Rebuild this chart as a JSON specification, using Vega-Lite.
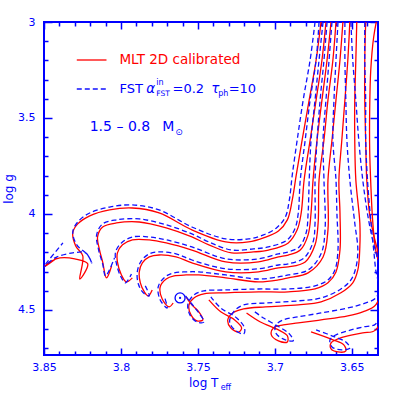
{
"$schema": "https://vega.github.io/schema/vega-lite/v6.json",
"width": 334, "height": 333,
"autosize": {"type": "none"},
"padding": {"left": 44, "top": 22, "right": 21, "bottom": 44},
"background": "white",
"config": {"view": {"stroke": "#0000ff", "strokeWidth": 2}},
"data": {"values": [{}]},
"datasets": {
"mlt": [
{"k":1,"i":0,"T":3.6700,"g":3.000},{"k":1,"i":1,"T":3.6732,"g":3.198},{"k":1,"i":2,"T":3.6777,"g":3.406},{"k":1,"i":3,"T":3.6823,"g":3.615},{"k":1,"i":4,"T":3.6861,"g":3.797},{"k":1,"i":5,"T":3.6887,"g":3.927},{"k":1,"i":6,"T":3.6919,"g":4.031},{"k":1,"i":7,"T":3.6977,"g":4.089},{"k":1,"i":8,"T":3.7074,"g":4.125},{"k":1,"i":9,"T":3.7171,"g":4.146},{"k":1,"i":10,"T":3.7319,"g":4.146},{"k":1,"i":11,"T":3.7539,"g":4.083},{"k":1,"i":12,"T":3.7752,"g":3.995},{"k":1,"i":13,"T":3.7926,"g":3.969},{"k":1,"i":14,"T":3.8074,"g":3.979},{"k":1,"i":15,"T":3.8203,"g":4.010},{"k":1,"i":16,"T":3.8281,"g":4.052},{"k":1,"i":17,"T":3.8313,"g":4.099},{"k":1,"i":18,"T":3.8294,"g":4.167},{"k":1,"i":19,"T":3.8248,"g":4.219},{"k":1,"i":20,"T":3.8268,"g":4.339},{"k":1,"i":21,"T":3.8216,"g":4.260},{"k":1,"i":22,"T":3.8300,"g":4.234},{"k":1,"i":23,"T":3.8397,"g":4.229},{"k":1,"i":24,"T":3.8461,"g":4.250},{"k":1,"i":25,"T":3.8506,"g":4.281},{"k":1,"i":26,"T":3.8416,"g":4.229},
{"k":2,"i":0,"T":3.6668,"g":3.000},{"k":2,"i":1,"T":3.6694,"g":3.198},{"k":2,"i":2,"T":3.6732,"g":3.406},{"k":2,"i":3,"T":3.6771,"g":3.615},{"k":2,"i":4,"T":3.6810,"g":3.823},{"k":2,"i":5,"T":3.6829,"g":3.995},{"k":2,"i":6,"T":3.6855,"g":4.083},{"k":2,"i":7,"T":3.6913,"g":4.151},{"k":2,"i":8,"T":3.7042,"g":4.188},{"k":2,"i":9,"T":3.7139,"g":4.198},{"k":2,"i":10,"T":3.7281,"g":4.203},{"k":2,"i":11,"T":3.7429,"g":4.161},{"k":2,"i":12,"T":3.7539,"g":4.120},{"k":2,"i":13,"T":3.7706,"g":4.073},{"k":2,"i":14,"T":3.7881,"g":4.042},{"k":2,"i":15,"T":3.8029,"g":4.047},{"k":2,"i":16,"T":3.8119,"g":4.068},{"k":2,"i":17,"T":3.8152,"g":4.120},{"k":2,"i":18,"T":3.8139,"g":4.188},{"k":2,"i":19,"T":3.8119,"g":4.250},{"k":2,"i":20,"T":3.8094,"g":4.333},{"k":2,"i":21,"T":3.8061,"g":4.271},
{"k":3,"i":0,"T":3.6635,"g":3.000},{"k":3,"i":1,"T":3.6661,"g":3.198},{"k":3,"i":2,"T":3.6694,"g":3.406},{"k":3,"i":3,"T":3.6726,"g":3.615},{"k":3,"i":4,"T":3.6752,"g":3.823},{"k":3,"i":5,"T":3.6765,"g":3.995},{"k":3,"i":6,"T":3.6784,"g":4.109},{"k":3,"i":7,"T":3.6835,"g":4.188},{"k":3,"i":8,"T":3.6913,"g":4.214},{"k":3,"i":9,"T":3.6977,"g":4.224},{"k":3,"i":10,"T":3.7106,"g":4.250},{"k":3,"i":11,"T":3.7319,"g":4.250},{"k":3,"i":12,"T":3.7539,"g":4.188},{"k":3,"i":13,"T":3.7706,"g":4.151},{"k":3,"i":14,"T":3.7816,"g":4.135},{"k":3,"i":15,"T":3.7926,"g":4.135},{"k":3,"i":16,"T":3.7990,"g":4.161},{"k":3,"i":17,"T":3.8023,"g":4.203},{"k":3,"i":18,"T":3.8023,"g":4.250},{"k":3,"i":19,"T":3.7997,"g":4.318},{"k":3,"i":20,"T":3.7965,"g":4.354},{"k":3,"i":21,"T":3.7926,"g":4.333},
{"k":4,"i":0,"T":3.6603,"g":3.000},{"k":4,"i":1,"T":3.6623,"g":3.198},{"k":4,"i":2,"T":3.6655,"g":3.406},{"k":4,"i":3,"T":3.6681,"g":3.615},{"k":4,"i":4,"T":3.6713,"g":3.823},{"k":4,"i":5,"T":3.6719,"g":4.047},{"k":4,"i":6,"T":3.6739,"g":4.161},{"k":4,"i":7,"T":3.6803,"g":4.250},{"k":4,"i":8,"T":3.6913,"g":4.276},{"k":4,"i":9,"T":3.6977,"g":4.281},{"k":4,"i":10,"T":3.7106,"g":4.302},{"k":4,"i":11,"T":3.7319,"g":4.302},{"k":4,"i":12,"T":3.7539,"g":4.255},{"k":4,"i":13,"T":3.7642,"g":4.224},{"k":4,"i":14,"T":3.7752,"g":4.214},{"k":4,"i":15,"T":3.7816,"g":4.224},{"k":4,"i":16,"T":3.7861,"g":4.255},{"k":4,"i":17,"T":3.7881,"g":4.302},{"k":4,"i":18,"T":3.7874,"g":4.359},{"k":4,"i":19,"T":3.7848,"g":4.406},{"k":4,"i":20,"T":3.7823,"g":4.427},{"k":4,"i":21,"T":3.7797,"g":4.396},
{"k":5,"i":0,"T":3.6558,"g":3.000},{"k":5,"i":1,"T":3.6577,"g":3.198},{"k":5,"i":2,"T":3.6603,"g":3.406},{"k":5,"i":3,"T":3.6629,"g":3.615},{"k":5,"i":4,"T":3.6655,"g":3.823},{"k":5,"i":5,"T":3.6655,"g":4.083},{"k":5,"i":6,"T":3.6687,"g":4.224},{"k":5,"i":7,"T":3.6784,"g":4.307},{"k":5,"i":8,"T":3.6913,"g":4.333},{"k":5,"i":9,"T":3.6977,"g":4.344},{"k":5,"i":10,"T":3.7106,"g":4.354},{"k":5,"i":11,"T":3.7319,"g":4.333},{"k":5,"i":12,"T":3.7494,"g":4.318},{"k":5,"i":13,"T":3.7577,"g":4.318},{"k":5,"i":14,"T":3.7655,"g":4.323},{"k":5,"i":15,"T":3.7706,"g":4.339},{"k":5,"i":16,"T":3.7745,"g":4.380},{"k":5,"i":17,"T":3.7732,"g":4.443},{"k":5,"i":18,"T":3.7687,"g":4.484},{"k":5,"i":19,"T":3.7661,"g":4.464},
{"k":6,"i":0,"T":3.6513,"g":3.000},{"k":6,"i":1,"T":3.6526,"g":3.198},{"k":6,"i":2,"T":3.6545,"g":3.406},{"k":6,"i":3,"T":3.6565,"g":3.615},{"k":6,"i":4,"T":3.6584,"g":3.823},{"k":6,"i":5,"T":3.6577,"g":3.995},{"k":6,"i":6,"T":3.6577,"g":4.188},{"k":6,"i":7,"T":3.6603,"g":4.302},{"k":6,"i":8,"T":3.6655,"g":4.359},{"k":6,"i":9,"T":3.6739,"g":4.391},{"k":6,"i":10,"T":3.6913,"g":4.406},{"k":6,"i":11,"T":3.7106,"g":4.406},{"k":6,"i":12,"T":3.7319,"g":4.411},{"k":6,"i":13,"T":3.7461,"g":4.417},{"k":6,"i":14,"T":3.7526,"g":4.438},{"k":6,"i":15,"T":3.7558,"g":4.474},{"k":6,"i":16,"T":3.7545,"g":4.526},{"k":6,"i":17,"T":3.7506,"g":4.557},{"k":6,"i":18,"T":3.7468,"g":4.552},{"k":6,"i":19,"T":3.7494,"g":4.510},{"k":6,"i":20,"T":3.7545,"g":4.469},{"k":6,"i":21,"T":3.7577,"g":4.432},
{"k":7,"i":0,"T":3.6468,"g":3.000},{"k":7,"i":1,"T":3.6474,"g":3.198},{"k":7,"i":2,"T":3.6481,"g":3.406},{"k":7,"i":3,"T":3.6481,"g":3.615},{"k":7,"i":4,"T":3.6474,"g":3.823},{"k":7,"i":5,"T":3.6448,"g":4.047},{"k":7,"i":6,"T":3.6448,"g":4.172},{"k":7,"i":7,"T":3.6461,"g":4.292},{"k":7,"i":8,"T":3.6494,"g":4.359},{"k":7,"i":9,"T":3.6571,"g":4.411},{"k":7,"i":10,"T":3.6700,"g":4.458},{"k":7,"i":11,"T":3.6848,"g":4.474},{"k":7,"i":12,"T":3.7061,"g":4.484},{"k":7,"i":13,"T":3.7203,"g":4.495},{"k":7,"i":14,"T":3.7274,"g":4.516},{"k":7,"i":15,"T":3.7306,"g":4.552},{"k":7,"i":16,"T":3.7287,"g":4.594},{"k":7,"i":17,"T":3.7235,"g":4.615},{"k":7,"i":18,"T":3.7216,"g":4.594},{"k":7,"i":19,"T":3.7261,"g":4.552},{"k":7,"i":20,"T":3.7352,"g":4.510},{"k":7,"i":21,"T":3.7429,"g":4.448},
{"k":8,"i":0,"T":3.6410,"g":3.000},{"k":8,"i":1,"T":3.6416,"g":3.198},{"k":8,"i":2,"T":3.6416,"g":3.406},{"k":8,"i":3,"T":3.6410,"g":3.615},{"k":8,"i":4,"T":3.6403,"g":3.823},{"k":8,"i":5,"T":3.6384,"g":4.005},{"k":8,"i":6,"T":3.6358,"g":4.109},{"k":8,"i":7,"T":3.6326,"g":4.214},{"k":8,"i":8,"T":3.6300,"g":4.344},{"k":8,"i":9,"T":3.6345,"g":4.474},{"k":8,"i":10,"T":3.6429,"g":4.510},{"k":8,"i":11,"T":3.6526,"g":4.531},{"k":8,"i":12,"T":3.6700,"g":4.552},{"k":8,"i":13,"T":3.6848,"g":4.568},{"k":8,"i":14,"T":3.6945,"g":4.578},{"k":8,"i":15,"T":3.7010,"g":4.594},{"k":8,"i":16,"T":3.7023,"g":4.630},{"k":8,"i":17,"T":3.6977,"g":4.661},{"k":8,"i":18,"T":3.6919,"g":4.667},{"k":8,"i":19,"T":3.6919,"g":4.635},{"k":8,"i":20,"T":3.6977,"g":4.604},{"k":8,"i":21,"T":3.7094,"g":4.563},{"k":8,"i":22,"T":3.7184,"g":4.516},
{"k":9,"i":0,"T":3.6332,"g":2.964},{"k":9,"i":1,"T":3.6358,"g":3.078},{"k":9,"i":2,"T":3.6377,"g":3.250},{"k":9,"i":3,"T":3.6384,"g":3.458},{"k":9,"i":4,"T":3.6384,"g":3.667},{"k":9,"i":5,"T":3.6377,"g":3.839},{"k":9,"i":6,"T":3.6365,"g":4.031},{"k":9,"i":7,"T":3.6345,"g":4.188},{"k":9,"i":8,"T":3.6281,"g":4.396},{"k":9,"i":9,"T":3.6345,"g":4.604},{"k":9,"i":10,"T":3.6429,"g":4.620},{"k":9,"i":11,"T":3.6526,"g":4.635},{"k":9,"i":12,"T":3.6590,"g":4.651},{"k":9,"i":13,"T":3.6635,"g":4.672},{"k":9,"i":14,"T":3.6635,"g":4.703},{"k":9,"i":15,"T":3.6590,"g":4.719},{"k":9,"i":16,"T":3.6539,"g":4.714},{"k":9,"i":17,"T":3.6552,"g":4.682},{"k":9,"i":18,"T":3.6623,"g":4.656},{"k":9,"i":19,"T":3.6765,"g":4.615}
],
"fst": [
{"k":1,"i":0,"T":3.6739,"g":3.000},{"k":1,"i":1,"T":3.6771,"g":3.198},{"k":1,"i":2,"T":3.6816,"g":3.406},{"k":1,"i":3,"T":3.6855,"g":3.615},{"k":1,"i":4,"T":3.6887,"g":3.797},{"k":1,"i":5,"T":3.6906,"g":3.927},{"k":1,"i":6,"T":3.6932,"g":4.016},{"k":1,"i":7,"T":3.6990,"g":4.073},{"k":1,"i":8,"T":3.7074,"g":4.109},{"k":1,"i":9,"T":3.7171,"g":4.130},{"k":1,"i":10,"T":3.7319,"g":4.130},{"k":1,"i":11,"T":3.7539,"g":4.068},{"k":1,"i":12,"T":3.7752,"g":3.979},{"k":1,"i":13,"T":3.7926,"g":3.953},{"k":1,"i":14,"T":3.8074,"g":3.964},{"k":1,"i":15,"T":3.8203,"g":3.995},{"k":1,"i":16,"T":3.8281,"g":4.042},{"k":1,"i":17,"T":3.8313,"g":4.094},{"k":1,"i":18,"T":3.8287,"g":4.161},{"k":1,"i":19,"T":3.8216,"g":4.214},{"k":1,"i":20,"T":3.8190,"g":4.255},{"k":1,"i":21,"T":3.8229,"g":4.203},{"k":1,"i":22,"T":3.8313,"g":4.203},{"k":1,"i":23,"T":3.8429,"g":4.229},{"k":1,"i":24,"T":3.8506,"g":4.281},{"k":1,"i":25,"T":3.8377,"g":4.151},
{"k":2,"i":0,"T":3.6713,"g":3.000},{"k":2,"i":1,"T":3.6732,"g":3.198},{"k":2,"i":2,"T":3.6771,"g":3.406},{"k":2,"i":3,"T":3.6803,"g":3.615},{"k":2,"i":4,"T":3.6835,"g":3.823},{"k":2,"i":5,"T":3.6848,"g":3.995},{"k":2,"i":6,"T":3.6868,"g":4.073},{"k":2,"i":7,"T":3.6919,"g":4.135},{"k":2,"i":8,"T":3.7042,"g":4.172},{"k":2,"i":9,"T":3.7139,"g":4.182},{"k":2,"i":10,"T":3.7281,"g":4.188},{"k":2,"i":11,"T":3.7429,"g":4.146},{"k":2,"i":12,"T":3.7539,"g":4.104},{"k":2,"i":13,"T":3.7706,"g":4.057},{"k":2,"i":14,"T":3.7881,"g":4.026},{"k":2,"i":15,"T":3.8029,"g":4.031},{"k":2,"i":16,"T":3.8119,"g":4.052},{"k":2,"i":17,"T":3.8158,"g":4.109},{"k":2,"i":18,"T":3.8145,"g":4.188},{"k":2,"i":19,"T":3.8119,"g":4.260},{"k":2,"i":20,"T":3.8100,"g":4.323},{"k":2,"i":21,"T":3.8042,"g":4.229},
{"k":3,"i":0,"T":3.6687,"g":3.000},{"k":3,"i":1,"T":3.6713,"g":3.198},{"k":3,"i":2,"T":3.6739,"g":3.406},{"k":3,"i":3,"T":3.6765,"g":3.615},{"k":3,"i":4,"T":3.6777,"g":3.823},{"k":3,"i":5,"T":3.6784,"g":3.995},{"k":3,"i":6,"T":3.6797,"g":4.099},{"k":3,"i":7,"T":3.6842,"g":4.172},{"k":3,"i":8,"T":3.6913,"g":4.198},{"k":3,"i":9,"T":3.6977,"g":4.208},{"k":3,"i":10,"T":3.7106,"g":4.234},{"k":3,"i":11,"T":3.7319,"g":4.234},{"k":3,"i":12,"T":3.7539,"g":4.172},{"k":3,"i":13,"T":3.7706,"g":4.135},{"k":3,"i":14,"T":3.7816,"g":4.120},{"k":3,"i":15,"T":3.7926,"g":4.120},{"k":3,"i":16,"T":3.7997,"g":4.151},{"k":3,"i":17,"T":3.8035,"g":4.198},{"k":3,"i":18,"T":3.8029,"g":4.260},{"k":3,"i":19,"T":3.8003,"g":4.323},{"k":3,"i":20,"T":3.7971,"g":4.359},{"k":3,"i":21,"T":3.7932,"g":4.313},
{"k":4,"i":0,"T":3.6661,"g":3.000},{"k":4,"i":1,"T":3.6681,"g":3.198},{"k":4,"i":2,"T":3.6706,"g":3.406},{"k":4,"i":3,"T":3.6726,"g":3.615},{"k":4,"i":4,"T":3.6739,"g":3.823},{"k":4,"i":5,"T":3.6739,"g":4.047},{"k":4,"i":6,"T":3.6752,"g":4.146},{"k":4,"i":7,"T":3.6810,"g":4.229},{"k":4,"i":8,"T":3.6913,"g":4.260},{"k":4,"i":9,"T":3.6977,"g":4.266},{"k":4,"i":10,"T":3.7106,"g":4.286},{"k":4,"i":11,"T":3.7319,"g":4.286},{"k":4,"i":12,"T":3.7539,"g":4.240},{"k":4,"i":13,"T":3.7642,"g":4.208},{"k":4,"i":14,"T":3.7752,"g":4.198},{"k":4,"i":15,"T":3.7816,"g":4.208},{"k":4,"i":16,"T":3.7868,"g":4.245},{"k":4,"i":17,"T":3.7894,"g":4.302},{"k":4,"i":18,"T":3.7887,"g":4.365},{"k":4,"i":19,"T":3.7855,"g":4.411},{"k":4,"i":20,"T":3.7816,"g":4.427},{"k":4,"i":21,"T":3.7842,"g":4.375},
{"k":5,"i":0,"T":3.6629,"g":3.000},{"k":5,"i":1,"T":3.6648,"g":3.198},{"k":5,"i":2,"T":3.6668,"g":3.406},{"k":5,"i":3,"T":3.6687,"g":3.615},{"k":5,"i":4,"T":3.6681,"g":3.823},{"k":5,"i":5,"T":3.6674,"g":4.083},{"k":5,"i":6,"T":3.6700,"g":4.208},{"k":5,"i":7,"T":3.6784,"g":4.292},{"k":5,"i":8,"T":3.6913,"g":4.318},{"k":5,"i":9,"T":3.6977,"g":4.328},{"k":5,"i":10,"T":3.7106,"g":4.339},{"k":5,"i":11,"T":3.7319,"g":4.318},{"k":5,"i":12,"T":3.7494,"g":4.302},{"k":5,"i":13,"T":3.7577,"g":4.302},{"k":5,"i":14,"T":3.7655,"g":4.307},{"k":5,"i":15,"T":3.7713,"g":4.328},{"k":5,"i":16,"T":3.7758,"g":4.380},{"k":5,"i":17,"T":3.7745,"g":4.448},{"k":5,"i":18,"T":3.7700,"g":4.490},{"k":5,"i":19,"T":3.7719,"g":4.427},
{"k":6,"i":0,"T":3.6590,"g":3.000},{"k":6,"i":1,"T":3.6603,"g":3.198},{"k":6,"i":2,"T":3.6616,"g":3.406},{"k":6,"i":3,"T":3.6623,"g":3.615},{"k":6,"i":4,"T":3.6603,"g":3.823},{"k":6,"i":5,"T":3.6597,"g":3.995},{"k":6,"i":6,"T":3.6590,"g":4.188},{"k":6,"i":7,"T":3.6610,"g":4.292},{"k":6,"i":8,"T":3.6655,"g":4.344},{"k":6,"i":9,"T":3.6739,"g":4.375},{"k":6,"i":10,"T":3.6913,"g":4.391},{"k":6,"i":11,"T":3.7106,"g":4.391},{"k":6,"i":12,"T":3.7319,"g":4.396},{"k":6,"i":13,"T":3.7461,"g":4.401},{"k":6,"i":14,"T":3.7526,"g":4.422},{"k":6,"i":15,"T":3.7565,"g":4.469},{"k":6,"i":16,"T":3.7552,"g":4.526},{"k":6,"i":17,"T":3.7506,"g":4.563},{"k":6,"i":18,"T":3.7461,"g":4.563},{"k":6,"i":19,"T":3.7494,"g":4.516},{"k":6,"i":20,"T":3.7545,"g":4.464},{"k":6,"i":21,"T":3.7590,"g":4.417},
{"k":7,"i":0,"T":3.6545,"g":3.000},{"k":7,"i":1,"T":3.6545,"g":3.198},{"k":7,"i":2,"T":3.6539,"g":3.406},{"k":7,"i":3,"T":3.6532,"g":3.615},{"k":7,"i":4,"T":3.6513,"g":3.823},{"k":7,"i":5,"T":3.6481,"g":4.047},{"k":7,"i":6,"T":3.6461,"g":4.188},{"k":7,"i":7,"T":3.6474,"g":4.281},{"k":7,"i":8,"T":3.6506,"g":4.344},{"k":7,"i":9,"T":3.6571,"g":4.391},{"k":7,"i":10,"T":3.6700,"g":4.438},{"k":7,"i":11,"T":3.6848,"g":4.453},{"k":7,"i":12,"T":3.7061,"g":4.464},{"k":7,"i":13,"T":3.7203,"g":4.474},{"k":7,"i":14,"T":3.7268,"g":4.510},{"k":7,"i":15,"T":3.7294,"g":4.563},{"k":7,"i":16,"T":3.7261,"g":4.604},{"k":7,"i":17,"T":3.7203,"g":4.625},{"k":7,"i":18,"T":3.7197,"g":4.594},{"k":7,"i":19,"T":3.7248,"g":4.542},{"k":7,"i":20,"T":3.7352,"g":4.490},{"k":7,"i":21,"T":3.7416,"g":4.432},
{"k":8,"i":0,"T":3.6506,"g":3.000},{"k":8,"i":1,"T":3.6494,"g":3.198},{"k":8,"i":2,"T":3.6474,"g":3.406},{"k":8,"i":3,"T":3.6455,"g":3.615},{"k":8,"i":4,"T":3.6429,"g":3.823},{"k":8,"i":5,"T":3.6397,"g":4.005},{"k":8,"i":6,"T":3.6365,"g":4.135},{"k":8,"i":7,"T":3.6332,"g":4.240},{"k":8,"i":8,"T":3.6313,"g":4.370},{"k":8,"i":9,"T":3.6345,"g":4.438},{"k":8,"i":10,"T":3.6429,"g":4.469},{"k":8,"i":11,"T":3.6526,"g":4.490},{"k":8,"i":12,"T":3.6700,"g":4.516},{"k":8,"i":13,"T":3.6848,"g":4.536},{"k":8,"i":14,"T":3.6945,"g":4.552},{"k":8,"i":15,"T":3.6997,"g":4.583},{"k":8,"i":16,"T":3.6990,"g":4.625},{"k":8,"i":17,"T":3.6932,"g":4.656},{"k":8,"i":18,"T":3.6881,"g":4.661},{"k":8,"i":19,"T":3.6906,"g":4.625},{"k":8,"i":20,"T":3.6971,"g":4.589},{"k":8,"i":21,"T":3.7074,"g":4.542},{"k":8,"i":22,"T":3.7139,"g":4.505},
{"k":9,"i":0,"T":3.6416,"g":3.000},{"k":9,"i":1,"T":3.6416,"g":3.198},{"k":9,"i":2,"T":3.6410,"g":3.406},{"k":9,"i":3,"T":3.6410,"g":3.615},{"k":9,"i":4,"T":3.6397,"g":3.839},{"k":9,"i":5,"T":3.6377,"g":4.031},{"k":9,"i":6,"T":3.6358,"g":4.188},{"k":9,"i":7,"T":3.6339,"g":4.318},{"k":9,"i":8,"T":3.6294,"g":4.448},{"k":9,"i":9,"T":3.6345,"g":4.573},{"k":9,"i":10,"T":3.6429,"g":4.589},{"k":9,"i":11,"T":3.6526,"g":4.609},{"k":9,"i":12,"T":3.6603,"g":4.630},{"k":9,"i":13,"T":3.6642,"g":4.656},{"k":9,"i":14,"T":3.6629,"g":4.693},{"k":9,"i":15,"T":3.6565,"g":4.708},{"k":9,"i":16,"T":3.6513,"g":4.698},{"k":9,"i":17,"T":3.6539,"g":4.667},{"k":9,"i":18,"T":3.6610,"g":4.641},{"k":9,"i":19,"T":3.6732,"g":4.604}
],
"sun": [{"T": 3.7616, "g": 4.4375}]
},
"layer": [
{"data": {"name": "mlt"},
 "mark": {"type": "line", "color": "#ff0000", "strokeWidth": 1.3, "interpolate": "catmull-rom", "clip": true},
 "encoding": {
  "x": {"field": "T", "type": "quantitative", "scale": {"domain": [3.633, 3.85], "reverse": true, "nice": false, "zero": false},
        "axis": {"orient": "bottom", "values": [3.65, 3.7, 3.75, 3.8, 3.85], "format": "~g", "tickSize": -7, "tickWidth": 1.5, "tickColor": "#0000ff", "labelPadding": 13, "labelColor": "#0000ff", "labelFont": "DejaVu Sans", "labelFontSize": 11, "labelFlush": false, "labelOverlap": false, "domain": false, "grid": false, "title": null}},
  "y": {"field": "g", "type": "quantitative", "scale": {"domain": [3, 4.735], "reverse": true, "nice": false, "zero": false},
        "axis": {"orient": "left", "values": [3, 3.5, 4, 4.5], "format": "~g", "tickSize": -8, "tickWidth": 1.5, "tickColor": "#0000ff", "labelPadding": 17, "labelColor": "#0000ff", "labelFont": "DejaVu Sans", "labelFontSize": 11, "labelFlush": false, "labelOverlap": false, "domain": false, "grid": false, "title": null}},
  "detail": {"field": "k"},
  "order": {"field": "i"}
 }},
{"data": {"name": "fst"},
 "mark": {"type": "line", "color": "#1010ff", "strokeWidth": 1.3, "strokeDash": [5, 3], "interpolate": "catmull-rom", "clip": true},
 "encoding": {
  "x": {"field": "T", "type": "quantitative",
        "axis": {"orient": "bottom", "values": [3.64, 3.66, 3.67, 3.68, 3.69, 3.71, 3.72, 3.73, 3.74, 3.76, 3.77, 3.78, 3.79, 3.81, 3.82, 3.83, 3.84], "tickSize": -4, "tickWidth": 1.5, "tickColor": "#0000ff", "labels": false, "domain": false, "grid": false, "title": null}},
  "y": {"field": "g", "type": "quantitative",
        "axis": {"orient": "left", "values": [3.1, 3.2, 3.3, 3.4, 3.6, 3.7, 3.8, 3.9, 4.1, 4.2, 4.3, 4.4, 4.6, 4.7], "tickSize": -4, "tickWidth": 1.5, "tickColor": "#0000ff", "labels": false, "domain": false, "grid": false, "title": null}},
  "detail": {"field": "k"},
  "order": {"field": "i"}
 }},
{"data": {"name": "sun"},
 "mark": {"type": "point", "shape": "circle", "filled": false, "stroke": "#0000ff", "strokeWidth": 1.3, "size": 100, "opacity": 1},
 "encoding": {
  "x": {"field": "T", "type": "quantitative",
        "axis": {"orient": "top", "values": [3.65, 3.7, 3.75, 3.8, 3.85], "tickSize": -7, "tickWidth": 1.5, "tickColor": "#0000ff", "labels": false, "domain": false, "grid": false, "title": null}},
  "y": {"field": "g", "type": "quantitative",
        "axis": {"orient": "right", "values": [3, 3.5, 4, 4.5], "tickSize": -8, "tickWidth": 1.5, "tickColor": "#0000ff", "labels": false, "domain": false, "grid": false, "title": null}}
 }},
{"data": {"name": "sun"},
 "mark": {"type": "point", "shape": "circle", "filled": true, "color": "#0000ff", "size": 5, "opacity": 1},
 "encoding": {
  "x": {"field": "T", "type": "quantitative",
        "axis": {"orient": "top", "values": [3.64, 3.66, 3.67, 3.68, 3.69, 3.71, 3.72, 3.73, 3.74, 3.76, 3.77, 3.78, 3.79, 3.81, 3.82, 3.83, 3.84], "tickSize": -4, "tickWidth": 1.5, "tickColor": "#0000ff", "labels": false, "domain": false, "grid": false, "title": null}},
  "y": {"field": "g", "type": "quantitative",
        "axis": {"orient": "right", "values": [3.1, 3.2, 3.3, 3.4, 3.6, 3.7, 3.8, 3.9, 4.1, 4.2, 4.3, 4.4, 4.6, 4.7], "tickSize": -4, "tickWidth": 1.5, "tickColor": "#0000ff", "labels": false, "domain": false, "grid": false, "title": null}}
 }},
{"mark": {"type": "rule", "color": "#ff0000", "strokeWidth": 1.3},
 "encoding": {"x": {"datum": 3.8287, "type": "quantitative", "axis": null}, "x2": {"datum": 3.8094}, "y": {"datum": 3.198, "type": "quantitative", "axis": null}}},
{"mark": {"type": "rule", "color": "#1010ff", "strokeWidth": 1.3, "strokeDash": [5, 3]},
 "encoding": {"x": {"datum": 3.8287, "type": "quantitative", "axis": null}, "x2": {"datum": 3.8094}, "y": {"datum": 3.349, "type": "quantitative", "axis": null}}},
{"mark": {"type": "text", "text": "MLT 2D calibrated", "align": "left", "baseline": "middle", "font": "DejaVu Sans", "fontSize": 13.5, "color": "#ff0000"},
 "encoding": {"x": {"datum": 3.801, "type": "quantitative", "axis": null}, "y": {"datum": 3.198, "type": "quantitative", "axis": null}}},
{"mark": {"type": "text", "text": "FST", "align": "left", "baseline": "middle", "font": "DejaVu Sans", "fontSize": 13, "color": "#0000ff"},
 "encoding": {"x": {"datum": 3.801, "type": "quantitative", "axis": null}, "y": {"datum": 3.349, "type": "quantitative", "axis": null}}},
{"mark": {"type": "text", "text": "α", "align": "left", "baseline": "middle", "font": "DejaVu Sans", "fontSize": 13.5, "fontStyle": "italic", "color": "#0000ff"},
 "encoding": {"x": {"datum": 3.7835, "type": "quantitative", "axis": null}, "y": {"datum": 3.349, "type": "quantitative", "axis": null}}},
{"mark": {"type": "text", "text": "in", "align": "left", "baseline": "middle", "font": "DejaVu Sans", "fontSize": 8, "color": "#0000ff"},
 "encoding": {"x": {"datum": 3.7771, "type": "quantitative", "axis": null}, "y": {"datum": 3.318, "type": "quantitative", "axis": null}}},
{"mark": {"type": "text", "text": "FST", "align": "left", "baseline": "middle", "font": "DejaVu Sans", "fontSize": 7.5, "color": "#0000ff"},
 "encoding": {"x": {"datum": 3.7771, "type": "quantitative", "axis": null}, "y": {"datum": 3.375, "type": "quantitative", "axis": null}}},
{"mark": {"type": "text", "text": "=0.2", "align": "left", "baseline": "middle", "font": "DejaVu Sans", "fontSize": 13, "color": "#0000ff"},
 "encoding": {"x": {"datum": 3.7665, "type": "quantitative", "axis": null}, "y": {"datum": 3.349, "type": "quantitative", "axis": null}}},
{"mark": {"type": "text", "text": "τ", "align": "left", "baseline": "middle", "font": "DejaVu Sans", "fontSize": 13.5, "fontStyle": "italic", "color": "#0000ff"},
 "encoding": {"x": {"datum": 3.7413, "type": "quantitative", "axis": null}, "y": {"datum": 3.349, "type": "quantitative", "axis": null}}},
{"mark": {"type": "text", "text": "ph", "align": "left", "baseline": "middle", "font": "DejaVu Sans", "fontSize": 8, "color": "#0000ff"},
 "encoding": {"x": {"datum": 3.7368, "type": "quantitative", "axis": null}, "y": {"datum": 3.375, "type": "quantitative", "axis": null}}},
{"mark": {"type": "text", "text": "=10", "align": "left", "baseline": "middle", "font": "DejaVu Sans", "fontSize": 13, "color": "#0000ff"},
 "encoding": {"x": {"datum": 3.7300, "type": "quantitative", "axis": null}, "y": {"datum": 3.349, "type": "quantitative", "axis": null}}},
{"mark": {"type": "text", "text": "1.5 – 0.8", "align": "left", "baseline": "middle", "font": "DejaVu Sans", "fontSize": 14, "color": "#0000ff"},
 "encoding": {"x": {"datum": 3.8203, "type": "quantitative", "axis": null}, "y": {"datum": 3.547, "type": "quantitative", "axis": null}}},
{"mark": {"type": "text", "text": "M", "align": "left", "baseline": "middle", "font": "DejaVu Sans", "fontSize": 14, "color": "#0000ff"},
 "encoding": {"x": {"datum": 3.7732, "type": "quantitative", "axis": null}, "y": {"datum": 3.547, "type": "quantitative", "axis": null}}},
{"mark": {"type": "text", "text": "⊙", "align": "left", "baseline": "middle", "font": "DejaVu Sans", "fontSize": 9, "color": "#0000ff"},
 "encoding": {"x": {"datum": 3.7648, "type": "quantitative", "axis": null}, "y": {"datum": 3.573, "type": "quantitative", "axis": null}}},
{"mark": {"type": "text", "text": "log T", "align": "left", "baseline": "alphabetic", "font": "DejaVu Sans", "fontSize": 12, "color": "#0000ff"},
 "encoding": {"x": {"datum": 3.7558, "type": "quantitative", "axis": null}, "y": {"datum": 4.901, "type": "quantitative", "axis": null}}},
{"mark": {"type": "text", "text": "eff", "align": "left", "baseline": "alphabetic", "font": "DejaVu Sans", "fontSize": 8, "color": "#0000ff"},
 "encoding": {"x": {"datum": 3.7352, "type": "quantitative", "axis": null}, "y": {"datum": 4.917, "type": "quantitative", "axis": null}}},
{"mark": {"type": "text", "text": "log g", "align": "center", "baseline": "middle", "angle": 270, "font": "DejaVu Sans", "fontSize": 12, "color": "#0000ff"},
 "encoding": {"x": {"datum": 3.8726, "type": "quantitative", "axis": null}, "y": {"datum": 3.870, "type": "quantitative", "axis": null}}}
],
"resolve": {"axis": {"x": "independent", "y": "independent"}}
}
